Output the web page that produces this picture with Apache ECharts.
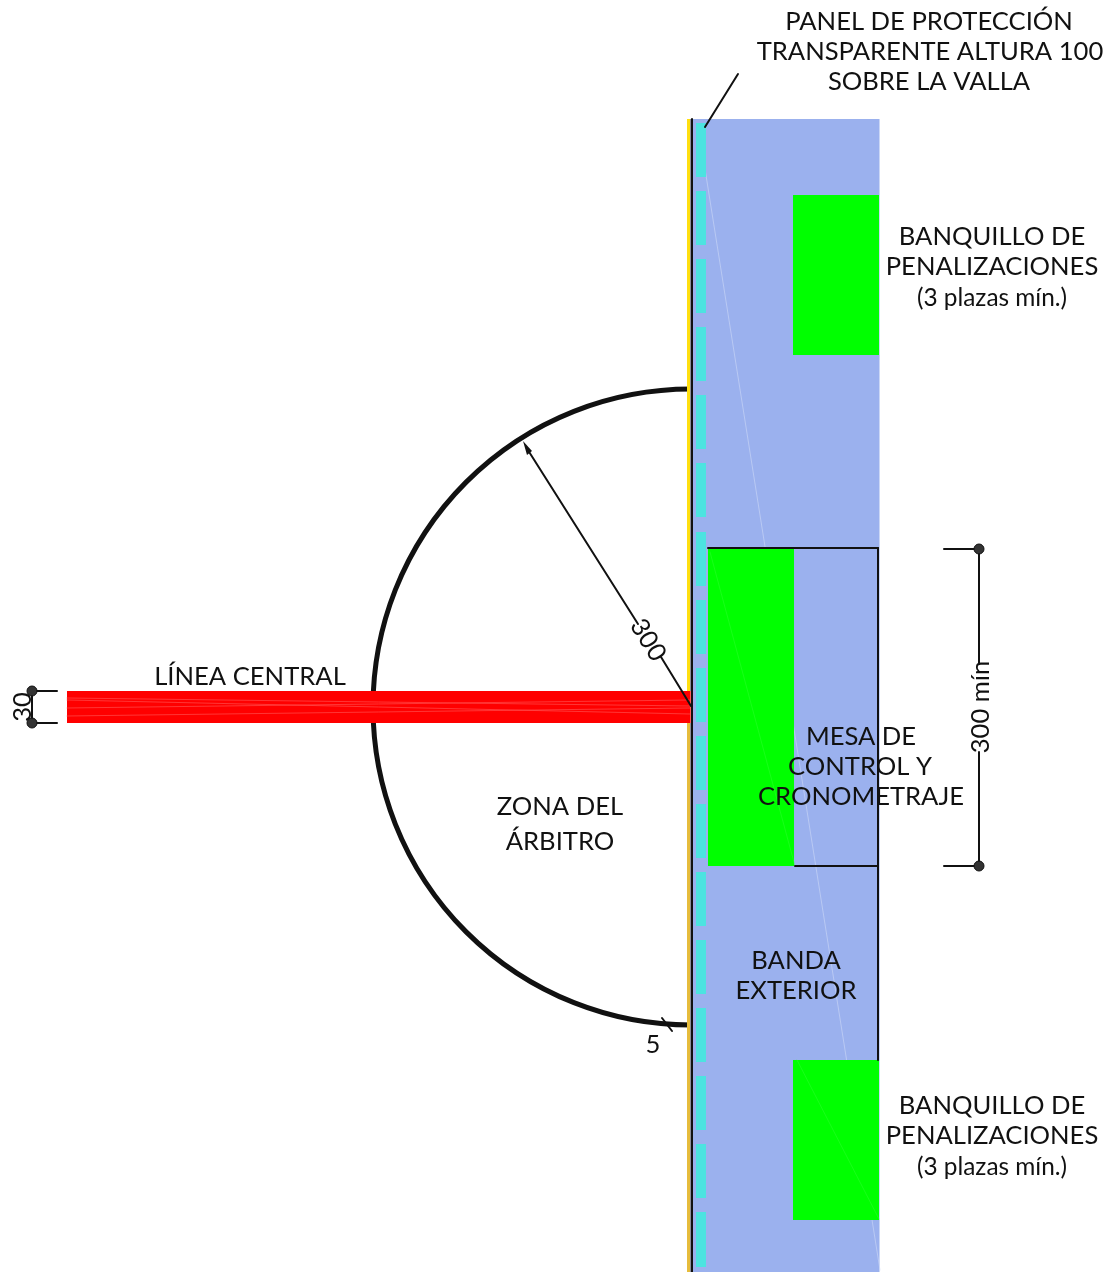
<!DOCTYPE html>
<html><head><meta charset="utf-8">
<style>html,body{margin:0;padding:0;background:#fff}#c{width:1108px;height:1272px}</style>
<script src="https://cdn.jsdelivr.net/npm/echarts@6/dist/echarts.min.js"></script></head>
<body><div id="c"></div>
<script>
// plan measures: [x0, x1, y0, y1]
const bandRect = [[693, 879, 119, 1272]];
const bandEdge = [[879, 880, 119, 1272]];
const yellowStrip = [[687, 690, 119, 691]];
const ochreStrip = [[687, 690, 723, 1272]];
const boardStrip = [[690, 691, 119, 1272]];
const panelStarts = [123,191,259,327,395,463,532,600,668,736,804,872,940,1008,1076,1144,1212];
const panelEnds   = [177,245,313,381,449,517,586,654,722,790,858,926,994,1062,1130,1198,1267];
const greenRects = [[793,879,195,355],[708,794,549,866],[793,879,1060,1220]];
const redBand = [[67,690,691,723]];
const redEdge = [[690,691,691,723]];
const redStreaks = [[[67,698],[690,706]],[[67,708],[690,700]],[[67,716],[690,708]],[[67,700],[690,714]]];
const bandFaint = [[[698,125],[880,1270]]];
const greenFaint = [[[710,552],[795,866]],[[797,1060],[879,1219]]];
const inkLines = [
  [[691.5,119],[691.5,1272]],
  [[708,548],[878,548]],[[795,866],[878,866]],[[878,548],[878,1060]],
  [[944,549],[979,549]],[[944,866],[979,866]],[[979,549],[979,664]],[[979,752],[979,866]],
  [[32,691],[57,691]],[[32,723],[57,723]],[[32,691],[32,723]],
  [[738,74],[705,127]],
  [[526,447],[638,624]],[[661,657],[691,706]],
  [[662,1018],[672,1031]]
];
const dots = [[979,549],[979,866],[32,691],[32,723]];
const arcCentre = [[691,707,318]];
const arrowHead = [[523,441],[532,451],[527,455]];
const labels = [
  ['PANEL DE PROTECCIÓN',929,22,25.6],['TRANSPARENTE ALTURA 100',930,52,25.6],['SOBRE LA VALLA',929,82,25.6],
  ['BANQUILLO DE',992,237,25.6],['PENALIZACIONES',992,267,25.6],['(3 plazas mín.)',992,298,24.4],
  ['MESA DE',861,737,25.6],['CONTROL Y',860,767,25.6],['CRONOMETRAJE',861,797,25.6],
  ['BANDA',796,961,25.6],['EXTERIOR',796,991,25.6],
  ['ZONA DEL',560,807,25.6],['ÁRBITRO',560,842,25.6],
  ['LÍNEA CENTRAL',250,677,25.6],
  ['BANQUILLO DE',992,1106,25.6],['PENALIZACIONES',992,1136,25.6],['(3 plazas mín.)',992,1167,24.4],
  ['5',653,1045,25.6]
];
const turnedLabels = [['300 mín',981,707,90],['30',23,707,90],['300',648,640,-58]];

const rectSeries = (data, color, z) => ({
  type:'custom', coordinateSystem:'cartesian2d', silent:true, z, clip:false,
  data: data.map(r=>({value:r})),
  encode:{x:[0,1],y:[2,3]},
  renderItem(p, api){
    const a = api.coord([api.value(0), api.value(2)]);
    const b = api.coord([api.value(1), api.value(3)]);
    return {type:'rect', shape:{x:a[0],y:a[1],width:b[0]-a[0],height:b[1]-a[1]}, style:{fill:color}};
  }
});
const lineSeries = (data, color, width, z) => ({
  type:'lines', coordinateSystem:'cartesian2d', silent:true, z, polyline:false,
  data:data.map(l=>({coords:l})),
  lineStyle:{color, width, opacity:1, cap:'round'}, symbol:'none', animation:false
});
const panels = panelStarts.map((s,i)=>[696,706,s,panelEnds[i]]);

const option = {
  animation:false,
  backgroundColor:'#fff',
  grid:{left:0,right:0,top:0,bottom:0},
  xAxis:{type:'value',min:0,max:1108,show:false},
  yAxis:{type:'value',min:0,max:1272,inverse:true,show:false},
  series:[
    rectSeries(bandRect,'#9BB1EE',1),
    rectSeries(bandEdge,'#CBD7F6',1),
    lineSeries(bandFaint,'rgba(205,216,246,0.6)',1,2),
    rectSeries(panels,'#4CE3E0',3),
    rectSeries(greenRects,'#00FF00',4),
    lineSeries(greenFaint,'rgba(50,255,50,0.45)',1,5),
    {type:'custom',coordinateSystem:'cartesian2d',silent:true,z:6,clip:false,
     data:arcCentre.map(a=>({value:a})),encode:{x:0,y:1},
     renderItem(p,api){
       const c=api.coord([api.value(0),api.value(1)]);
       const r=api.size([api.value(2),0])[0];
       return {type:'arc',shape:{cx:c[0],cy:c[1],r,startAngle:Math.PI/2,endAngle:Math.PI*1.5,clockwise:true},
               style:{stroke:'#111',lineWidth:5,fill:null}};
     }},
    rectSeries(yellowStrip,'#FFDF10',7),
    rectSeries(ochreStrip,'#E6BC3C',7),
    rectSeries(boardStrip,'#8E8E9A',7),
    rectSeries(redBand,'#FF0000',7),
    rectSeries(redEdge,'#FF5A5A',7),
    lineSeries(redStreaks,'rgba(255,90,90,0.6)',1,8),
    lineSeries(inkLines,'#111',2,9),
    {type:'custom',coordinateSystem:'cartesian2d',silent:true,z:9,clip:false,
     data:[{value:[0,0]}],encode:{x:0,y:1},
     renderItem(p,api){
       return {type:'polygon',shape:{points:arrowHead.map(q=>api.coord(q))},style:{fill:'#111'}};
     }},
    {type:'scatter',silent:true,z:10,data:dots,symbol:'circle',symbolSize:10,itemStyle:{color:'#333',borderColor:'#111',borderWidth:1,opacity:1}},
    {type:'custom',coordinateSystem:'cartesian2d',silent:true,z:11,clip:false,
     data:labels.map(l=>({value:[l[1],l[2]],name:l[0]})),encode:{x:0,y:1},
     renderItem(p,api){
       const c=api.coord([api.value(0),api.value(1)]);
       const t=labels[p.dataIndex];
       return {type:'text',x:c[0],y:c[1],style:{text:t[0],font:t[3]+'px Lato',fill:'#111',align:'center',verticalAlign:'middle'}};
     }},
    {type:'custom',coordinateSystem:'cartesian2d',silent:true,z:11,clip:false,
     data:turnedLabels.map(l=>({value:[l[1],l[2]],name:l[0]})),encode:{x:0,y:1},
     renderItem(p,api){
       const c=api.coord([api.value(0),api.value(1)]);
       const t=turnedLabels[p.dataIndex];
       return {type:'text',x:c[0],y:c[1],rotation:t[3]*Math.PI/180,style:{text:t[0],font:'25.6px Lato',fill:'#111',align:'center',verticalAlign:'middle'}};
     }}
  ]
};
echarts.init(document.getElementById('c'),null,{renderer:'canvas'}).setOption(option);
</script></body></html>
